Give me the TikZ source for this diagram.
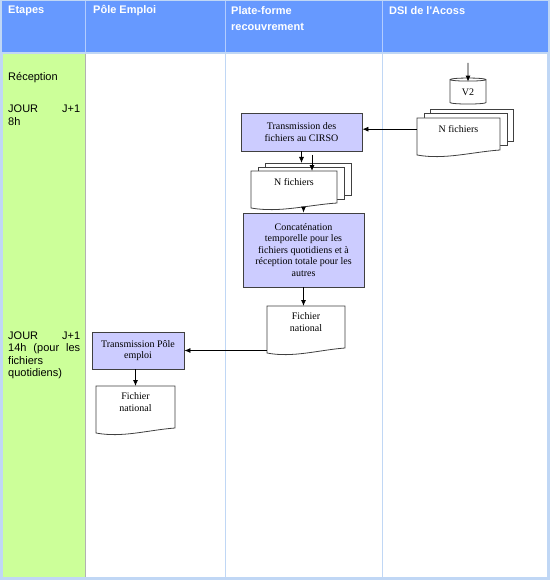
\documentclass[tikz,border=0pt]{standalone}
\usepackage{fontspec}
\setmainfont{Liberation Serif}
\newfontfamily\arialfont{Liberation Sans}
\usetikzlibrary{shapes.geometric, arrows.meta}

\definecolor{headblue}{RGB}{102,153,255}
\definecolor{gridblue}{RGB}{192,215,245}
\definecolor{stepgreen}{RGB}{204,255,153}
\definecolor{boxfill}{RGB}{204,204,255}
\definecolor{boxline}{RGB}{64,64,64}

\newcommand{\docnode}[6]{%
    \draw[docline] ({#2-#4/2},#3) -- ({#2+#4/2},#3) -- ({#2+#4/2},{#3+#5})
        .. controls ({#2+#4/2-0.34*#4},{#3+#5+2}) and ({#2-#4/2+0.33*#4},{#3+#5+10}) .. ({#2-#4/2},{#3+#5+5}) -- cycle;
    \coordinate (#1-bot) at (#2,{#3+#5+5});
    \node[doctext, minimum width=#4pt, minimum height={#5pt-10pt}, anchor=north] (#1) at (#2,#3) {#6};}

\begin{document}
\begin{tikzpicture}[x=1pt, y=-1pt,
    proc/.style={draw=boxline, fill=boxfill, line width=0.8pt, align=center, inner sep=0pt,
        font=\fontsize{10}{11.5}\selectfont},
    doctext/.style={align=center, inner sep=0pt, font=\fontsize{10}{11.5}\selectfont},
    docline/.style={draw=boxline, fill=white, line width=0.8pt},
    sheet/.style={draw=boxline, fill=white, line width=0.8pt, inner sep=0pt, anchor=north west},
    arr/.style={draw=black, line width=0.8pt, -{Latex[length=6pt,width=5pt]}},
    head/.style={anchor=west, text=white, align=left, inner sep=0pt,
        font=\arialfont\bfseries\fontsize{11}{16.5}\selectfont},
    etape/.style={anchor=base west, inner sep=0pt, text width=72pt, align=left,
        font=\arialfont\fontsize{11}{12.5}\selectfont}
]
    \fill[gridblue] (0,0) rectangle (550,580);
    \fill[headblue] (2,1) rectangle (548,52);
    \fill[white] (3,54) rectangle (547,577);
    \fill[stepgreen] (3,54) rectangle (85,577);
    \draw[gray!60, line width=1pt] (85.5,54) -- (85.5,577);
    \draw[gridblue, line width=1pt] (225,54) -- (225,577) (382,54) -- (382,577);
    \draw[headblue!50!white, line width=0.6pt] (85.5,1) -- (85.5,52) (225,1) -- (225,52) (382,1) -- (382,52);

    \node[head] (hetapes) at (8,10.5) {Etapes};
    \node[head] (hpole) at (93,10.5) {Pôle Emploi};
    \node[head] (hplate) at (231,18.5) {Plate-forme\\recouvrement};
    \node[head] (hdsi) at (389,10.5) {DSI de l'Acoss};

    \node[etape] (reception) at (8,81) {Réception};
    \node[etape] (jour1) at (8,113) {JOUR\hfill J+1\\8h};
    \node[etape] (jour2) at (8,339) {JOUR\hfill J+1\\14h \hfill (pour \hfill les\\fichiers\\quotidiens)};

    \node[draw=boxline, fill=white, line width=0.8pt, cylinder, shape border rotate=90, aspect=0.25,
        minimum width=36pt, minimum height=26pt, inner sep=0pt, font=\fontsize{10}{11.5}\selectfont] (v2) at (468,92) {V2};
    \coordinate (v2in) at (468,63);
    \draw[arr] (v2in) -- ([yshift=-4pt]v2.north);

    \node[sheet, minimum width=83pt, minimum height=32pt] (ndsi-s2) at (430,109) {};
    \node[sheet, minimum width=83pt, minimum height=32pt] (ndsi-s1) at (423.5,113.5) {};
    \docnode{ndsi}{458.5}{118}{83}{32}{N fichiers}

    \node[proc, minimum width=121pt, minimum height=38pt] (trcirso) at (301.5,132) {Transmission des\\fichiers au CIRSO};
    \draw[arr] (ndsi.west) -- (ndsi.west -| trcirso.east);

    \node[sheet, minimum width=86pt, minimum height=32pt] (nmid-s2) at (265,163) {};
    \node[sheet, minimum width=86pt, minimum height=32pt] (nmid-s1) at (258,167) {};
    \docnode{nmid}{294}{171}{86}{32}{N fichiers}
    \coordinate (split) at (312,155);
    \draw[arr] (trcirso.south) -- (trcirso.south |- nmid-s2.north);
    \draw[arr] (split) -- (split |- nmid.north);

    \node[proc, minimum width=121pt, minimum height=74pt] (concat) at (303.5,250)
        {Concaténation\\temporelle pour les\\fichiers quotidiens et à\\réception totale pour les\\autres};
    \draw[arr] (concat.north |- nmid-bot) -- (concat.north);

    \docnode{fnat}{306}{306}{78}{42}{Fichier\\national}
    \draw[arr] (concat.south) -- (concat.south |- fnat.north);

    \node[proc, minimum width=92pt, minimum height=37pt] (trpole) at (138,350.5) {Transmission Pôle\\emploi};
    \draw[arr] (fnat.west |- trpole.east) -- (trpole.east);

    \docnode{fpole}{135.5}{386}{79}{42}{Fichier\\national}
    \draw[arr] (trpole.south -| fpole.north) -- (fpole.north);
\end{tikzpicture}
\end{document}
